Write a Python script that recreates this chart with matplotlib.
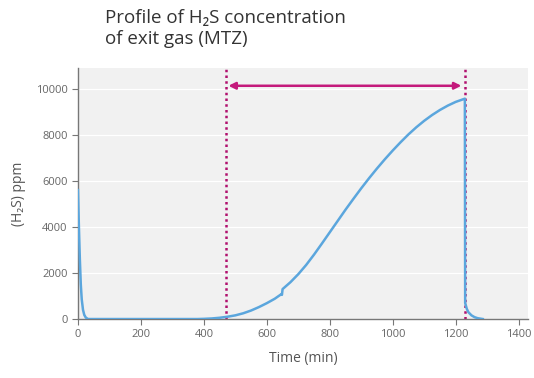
import matplotlib
matplotlib.use("Agg")
import matplotlib.pyplot as plt

plt.rcParams['font.family'] = ['Open Sans', 'DejaVu Sans']

# Data
time_min = [0, 3, 6, 9, 12, 16, 20, 25, 32, 100, 200, 300, 380,
            400, 425, 450, 475, 500, 525, 550, 575, 600, 625, 646, 648, 650,
            675, 700, 725, 750, 775, 800, 825, 850, 875, 900, 925, 950, 975,
            1000, 1025, 1050, 1075, 1100, 1125, 1150, 1175, 1200, 1229,
            1230, 1235, 1240, 1250, 1260, 1270, 1286]
h2s_ppm = [5600, 4000, 2600, 1500, 850, 400, 180, 60, 0, 0, 0, 0, 0,
           8, 25, 55, 100, 160, 250, 370, 520, 690, 880, 1080, 1050, 1300,
           1600, 1950, 2350, 2800, 3280, 3770, 4260, 4750, 5220, 5680, 6120, 6540, 6940,
           7320, 7680, 8020, 8330, 8610, 8860, 9080, 9270, 9430, 9570,
           700, 450, 300, 160, 80, 35, 0]
marker_times = [470, 1229]
arrow_span = [478, 1218]
arrow_level = 10130
x_ticks = [0, 200, 400, 600, 800, 1000, 1200, 1400]
y_ticks = [0, 2000, 4000, 6000, 8000, 10000]

fig = plt.figure(figsize=(5.34, 3.78), dpi=100)
ax = fig.add_axes([0.146, 0.156, 0.843, 0.664])
ax.set_facecolor('#f1f1f1')

ax.set_xlim(0, 1430)
ax.set_ylim(0, 10900)

for y in y_ticks[1:]:
    ax.axhline(y, color='white', lw=0.9, zorder=1)

ax.plot(time_min, h2s_ppm, color='#5ba6dd', lw=1.8, zorder=3, solid_joinstyle='round')

for t in marker_times:
    ax.axvline(t, color='#b0106e', lw=1.8, linestyle=(0, (1, 1.3)), zorder=2)

ax.annotate('', xy=(arrow_span[1], arrow_level), xytext=(arrow_span[0], arrow_level),
            arrowprops=dict(arrowstyle='<|-|>', color='#c41a7c', lw=1.8,
                            mutation_scale=10, shrinkA=0, shrinkB=0), zorder=4)

ax.set_xticks(x_ticks)
ax.set_yticks(y_ticks)
ax.tick_params(axis='both', colors='#777777', labelcolor='#666666', labelsize=8,
               length=4, width=0.8, direction='out')
ax.tick_params(axis='x', pad=3)
for s in ['top', 'right']:
    ax.spines[s].set_visible(False)
for s in ['left', 'bottom']:
    ax.spines[s].set_color('#777777')
    ax.spines[s].set_linewidth(1.0)

ax.set_xlabel('Time (min)', fontsize=10, color='#555555', labelpad=8)
ax.set_ylabel('(H\u2082S) ppm', fontsize=10, color='#555555', labelpad=7)

fig.text(0.197, 0.975, 'Profile of H\u2082S concentration\nof exit gas (MTZ)',
         fontsize=13.5, color='#333333', va='top', ha='left', linespacing=1.15)

fig.savefig('out.png', dpi=100)
